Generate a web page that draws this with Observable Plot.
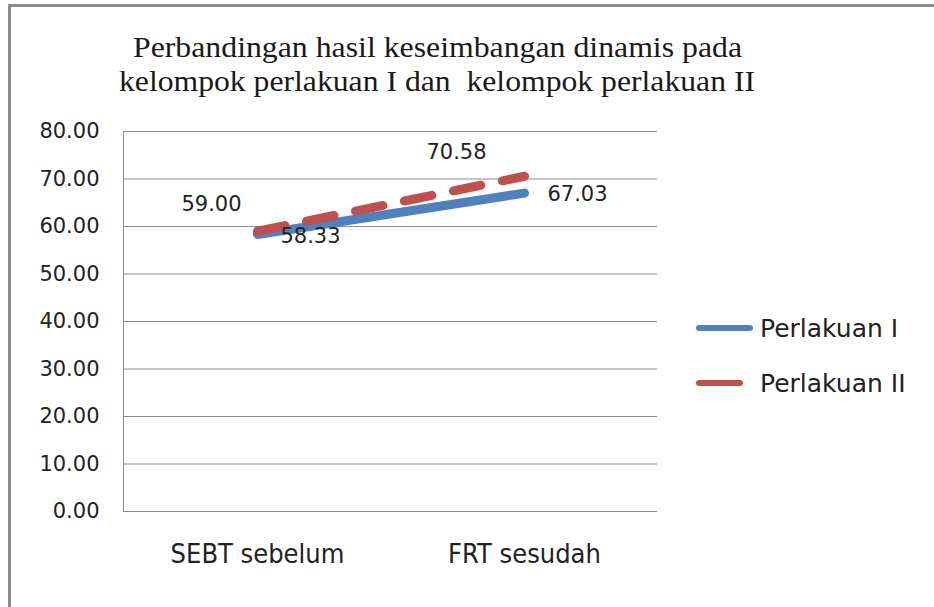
<!DOCTYPE html>
<html><head><meta charset="utf-8">
<script src="https://cdn.jsdelivr.net/npm/d3@7"></script>
<script src="https://cdn.jsdelivr.net/npm/@observablehq/plot@0.6"></script>
<style>
html,body{margin:0;padding:0;background:#fff;}
#wrap{position:relative;width:934px;height:607px;overflow:hidden;background:#fff;}
#border{position:absolute;left:8px;top:4px;width:1000px;height:700px;border-left:3px solid #8c8c8c;border-top:3px solid #8c8c8c;}
#chart{position:absolute;left:0;top:0;}
#title{position:absolute;left:0;top:0;}
#legend{position:absolute;left:0;top:0;width:934px;height:607px;pointer-events:none;}
.leg{position:absolute;left:690px;height:30px;display:flex;align-items:center;font-family:"DejaVu Sans",sans-serif;font-size:25px;color:#222;white-space:nowrap;}
.leg svg{margin-right:4px;}
</style></head><body>
<div id="wrap"><div id="border"></div><div id="chart"></div><svg id="title" width="934" height="120"></svg><div id="legend"></div></div>
<script>
const categories = ["SEBT sebelum", "FRT sesudah"];
const perlakuanI = [58.33, 67.03];
const perlakuanII = [59.00, 70.58];
const seriesNames = ["Perlakuan I", "Perlakuan II"];
const yTicks = [0, 10, 20, 30, 40, 50, 60, 70, 80];
const titleLines = ["Perbandingan hasil keseimbangan dinamis pada", "kelompok perlakuan I dan  kelompok perlakuan II"];
const colors = ["#4F81BD", "#C0504D"];

const rowsI = categories.map((c, i) => ({cat: c, v: perlakuanI[i], s: seriesNames[0]}));
const rowsII = categories.map((c, i) => ({cat: c, v: perlakuanII[i], s: seriesNames[1]}));
const fmt = d => d.toFixed(2);
const lab = (row, dx, dy) => Plot.text([row], {x: "cat", y: "v", text: d => fmt(d.v), dx, dy, fill: "#222", fontSize: 21});

const chart = Plot.plot({
  width: 934, height: 607,
  marginLeft: 123, marginRight: 277, marginTop: 131, marginBottom: 96,
  style: {fontFamily: "DejaVu Sans, sans-serif", fontSize: "21px", background: "transparent", color: "#222"},
  x: {type: "point", domain: categories, padding: 0.5, axis: null},
  y: {domain: [0, 80], axis: null},
  marks: [
    Plot.gridY(yTicks, {stroke: "#8c8c8c", strokeOpacity: 1, strokeWidth: 1}),
    Plot.frame({anchor: "left", stroke: "#8c8c8c", strokeWidth: 1}),
    Plot.axisY({ticks: yTicks, tickSize: 0, tickPadding: 24, tickFormat: fmt, fontSize: 21, fill: "#222", label: null}),
    Plot.text(categories, {x: d => d, frameAnchor: "bottom", dy: 51, fontSize: 27, fontFamily: "DejaVu Sans Condensed, DejaVu Sans, sans-serif", fill: "#222"}),
    Plot.line(rowsI, {x: "cat", y: "v", stroke: colors[0], strokeWidth: 9, strokeLinecap: "round"}),
    Plot.line(rowsII, {x: "cat", y: "v", stroke: colors[1], strokeWidth: 9, strokeLinecap: "round", strokeDasharray: "28,22"}),
    lab(rowsII[0], -46, -27),
    lab(rowsI[0], 53, 2),
    lab(rowsII[1], -68, -24),
    lab(rowsI[1], 53, 1)
  ]
});
document.getElementById("chart").appendChild(chart);

// title
const tsvg = d3.select("#title");
const tpos = [{x: 133, y: 57, len: 609}, {x: 119, y: 91, len: 636}];
titleLines.forEach((t, i) => {
  tsvg.append("text").attr("x", tpos[i].x).attr("y", tpos[i].y)
    .attr("textLength", tpos[i].len).attr("lengthAdjust", "spacingAndGlyphs")
    .attr("font-family", "Liberation Serif, serif").attr("font-size", 30).attr("fill", "#1a1a1a")
    .style("white-space", "pre").text(t);
});

// legend
const legend = document.getElementById("legend");
const legY = [313, 368];
seriesNames.forEach((name, i) => {
  const div = document.createElement("div");
  div.className = "leg";
  div.style.top = legY[i] + "px";
  const len = i === 0 ? 57 : 47;
  div.innerHTML = `<svg width="66" height="30"><line x1="9" x2="${9 + len - 6}" y1="15" y2="15" stroke="${colors[i]}" stroke-width="6" stroke-linecap="round"/></svg><span>${name}</span>`;
  legend.appendChild(div);
});
</script>
</body></html>
